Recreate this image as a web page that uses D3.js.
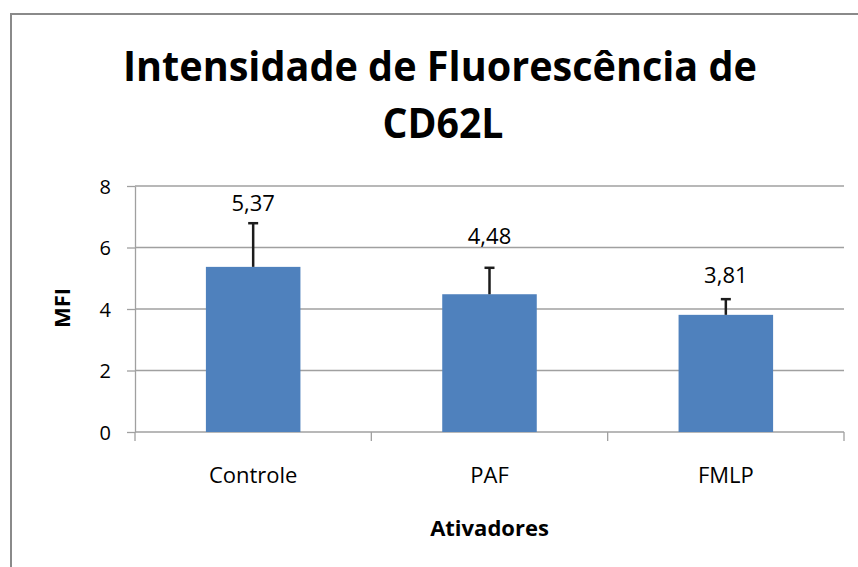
<!DOCTYPE html>
<html>
<head>
<meta charset="UTF-8">
<title>Intensidade de Fluorescência de CD62L</title>
<script src="https://cdn.jsdelivr.net/npm/d3@7"></script>
<style>
  body { margin: 0; background: #fff; }
  svg text { font-family: "Open Sans", "DejaVu Sans", sans-serif; fill: #000; }
  .grid line { stroke: #a0a0a0; stroke-width: 1.3; }
  .axis path, .axis line { stroke: #a0a0a0; stroke-width: 1.3; }
</style>
</head>
<body>
<div id="graphe"></div>
<script>
// donnees
var categorias = ["Controle", "PAF", "FMLP"];
var valores = [5.37, 4.48, 3.81];
var erros = [1.42, 0.86, 0.51];
var rotulos = ["5,37", "4,48", "3,81"];
var ticksY = [0, 2, 4, 6, 8];

var width = 858, height = 567;
var margin = {top: 186, right: 14, bottom: 135, left: 135};

var svg = d3.select("#graphe").append("svg")
  .attr("width", width)
  .attr("height", height);

// cadre du graphique
svg.append("rect")
  .attr("x", 11).attr("y", 14)
  .attr("width", 900).attr("height", 700)
  .attr("fill", "none")
  .attr("stroke", "#8a8a8a")
  .attr("stroke-width", 2);

var x = d3.scaleBand()
  .domain(categorias)
  .range([margin.left, width - margin.right])
  .paddingInner(0.6)
  .paddingOuter(0.3);

var y = d3.scaleLinear()
  .domain([0, 8])
  .range([height - margin.bottom, margin.top]);

// grille
svg.append("g").attr("class", "grid")
  .selectAll("line")
  .data(ticksY.filter(function(d) { return d > 0; }))
  .enter().append("line")
  .attr("x1", margin.left).attr("x2", width - margin.right)
  .attr("y1", function(d) { return y(d); })
  .attr("y2", function(d) { return y(d); });

// axe y
var axeY = svg.append("g").attr("class", "axis")
  .attr("transform", "translate(" + margin.left + ",0)")
  .call(d3.axisLeft(y).tickValues(ticksY).tickSize(8).tickPadding(16).tickSizeOuter(0));
axeY.selectAll("text").style("font-size", "20px").attr("dy", "0.36em");

// axe x
var bordas = d3.range(categorias.length + 1).map(function(i) {
  return margin.left + i * x.step();
});
var axeX = svg.append("g").attr("class", "axis");
axeX.append("line")
  .attr("x1", margin.left).attr("x2", width - margin.right)
  .attr("y1", y(0)).attr("y2", y(0));
axeX.selectAll(".tk").data(bordas).enter().append("line")
  .attr("class", "tk")
  .attr("x1", function(d) { return d; }).attr("x2", function(d) { return d; })
  .attr("y1", y(0)).attr("y2", y(0) + 9);
axeX.selectAll(".cat").data(categorias).enter().append("text")
  .attr("class", "cat")
  .attr("x", function(d) { return x(d) + x.bandwidth() / 2; })
  .attr("y", y(0) + 51)
  .attr("text-anchor", "middle")
  .style("font-size", "22px")
  .text(function(d) { return d; });

// barres
svg.append("g").selectAll("rect")
  .data(valores)
  .enter().append("rect")
  .attr("x", function(d, i) { return x(categorias[i]); })
  .attr("y", function(d) { return y(d); })
  .attr("width", x.bandwidth())
  .attr("height", function(d) { return y(0) - y(d); })
  .attr("fill", "#4f81bd");

// barres d'erreur
var eb = svg.append("g").attr("stroke", "#1c1c1c").attr("stroke-width", 2.5);
valores.forEach(function(v, i) {
  var cx = x(categorias[i]) + x.bandwidth() / 2;
  eb.append("line").attr("x1", cx).attr("x2", cx)
    .attr("y1", y(v)).attr("y2", y(v + erros[i]));
  eb.append("line").attr("x1", cx - 5).attr("x2", cx + 5)
    .attr("y1", y(v + erros[i])).attr("y2", y(v + erros[i]));
});

// etiquettes
svg.append("g").selectAll("text")
  .data(valores)
  .enter().append("text")
  .attr("x", function(d, i) { return x(categorias[i]) + x.bandwidth() / 2; })
  .attr("y", function(d, i) { return y(d + erros[i]) - [12, 24, 16][i]; })
  .attr("text-anchor", "middle")
  .style("font-size", "22px")
  .text(function(d, i) { return rotulos[i]; });

// titres
var t1 = svg.append("text")
  .attr("x", 440).attr("y", 81)
  .attr("text-anchor", "middle")
  .style("font-size", "42px").style("font-weight", "bold")
  .text("Intensidade de Fluorescência de");
if (t1.node().getComputedTextLength() > 636) {
  t1.attr("textLength", 634).attr("lengthAdjust", "spacingAndGlyphs");
}
var t2 = svg.append("text")
  .attr("x", 443).attr("y", 138)
  .attr("text-anchor", "middle")
  .style("font-size", "42px").style("font-weight", "bold")
  .text("CD62L");
if (t2.node().getComputedTextLength() > 124) {
  t2.attr("textLength", 121).attr("lengthAdjust", "spacingAndGlyphs");
}

svg.append("text")
  .attr("transform", "translate(70," + (y(4) - 1) + ") rotate(-90)")
  .attr("text-anchor", "middle")
  .style("font-size", "22px").style("font-weight", "bold")
  .text("MFI");

svg.append("text")
  .attr("x", (margin.left + width - margin.right) / 2)
  .attr("y", 536)
  .attr("text-anchor", "middle")
  .style("font-size", "22px").style("font-weight", "bold")
  .text("Ativadores");
</script>
</body>
</html>
